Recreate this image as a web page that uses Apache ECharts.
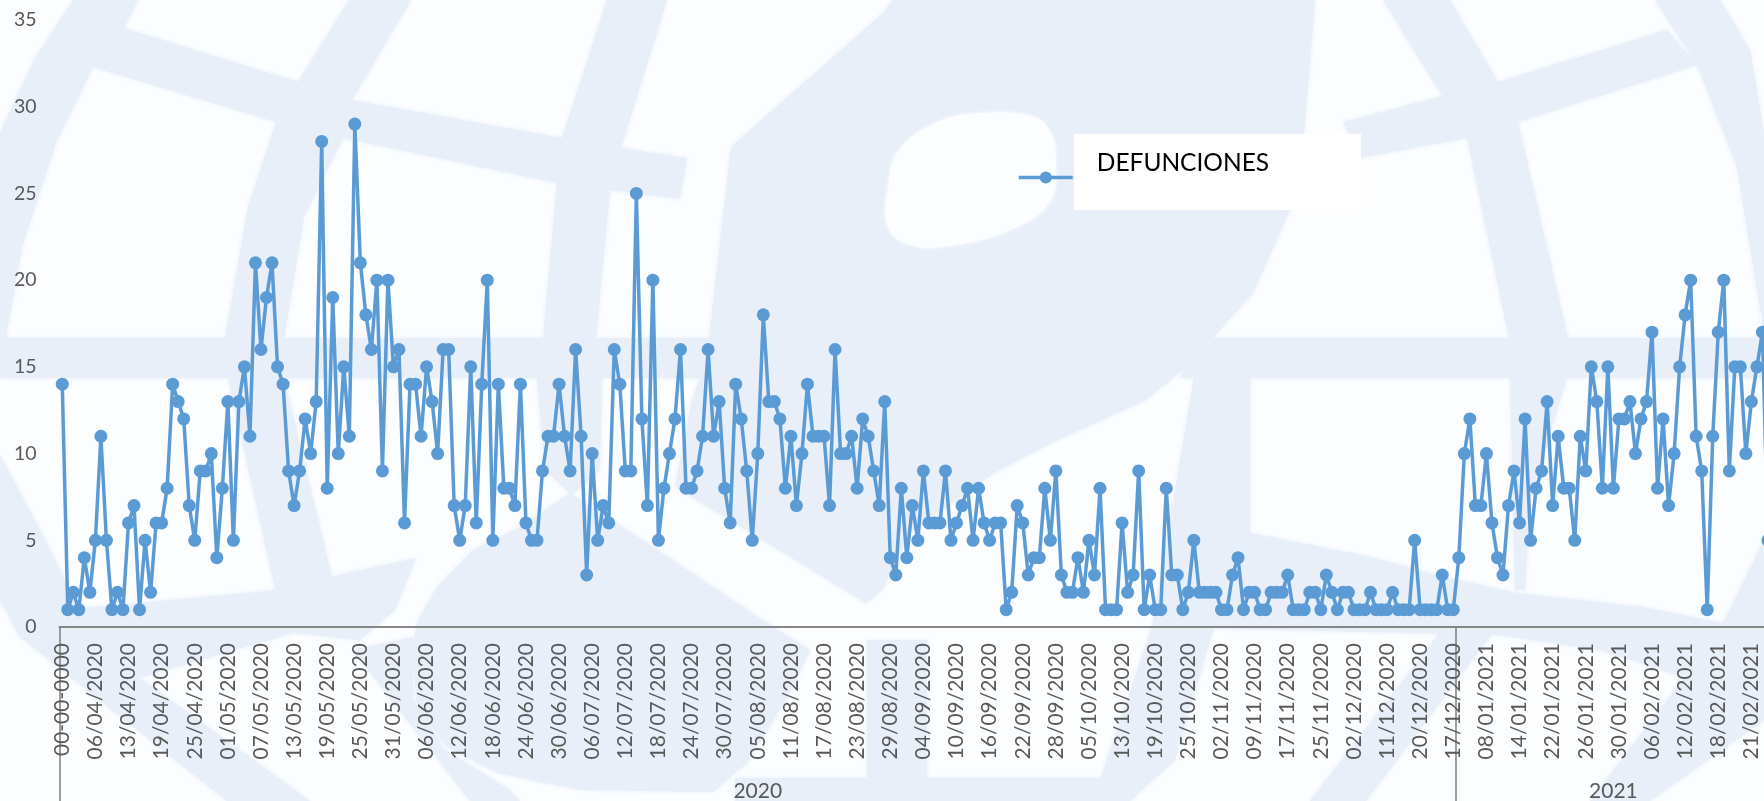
<!DOCTYPE html>
<html>
<head>
<meta charset="utf-8">
<style>html,body{margin:0;padding:0;background:#FBFDFF}#c{width:1764px;height:801px}</style>
<script src="https://cdn.jsdelivr.net/npm/echarts@6/dist/echarts.min.js"></script>
</head>
<body>
<div id="c"></div>
<script>
const seriesName = 'DEFUNCIONES';
const deaths = [
14,1,2,1,4,2,5,11,5,1,
2,1,6,7,1,5,2,6,6,8,
14,13,12,7,5,9,9,10,4,8,
13,5,13,15,11,21,16,19,21,15,
14,9,7,9,12,10,13,28,8,19,
10,15,11,29,21,18,16,20,9,20,
15,16,6,14,14,11,15,13,10,16,
16,7,5,7,15,6,14,20,5,14,
8,8,7,14,6,5,5,9,11,11,
14,11,9,16,11,3,10,5,7,6,
16,14,9,9,25,12,7,20,5,8,
10,12,16,8,8,9,11,16,11,13,
8,6,14,12,9,5,10,18,13,13,
12,8,11,7,10,14,11,11,11,7,
16,10,10,11,8,12,11,9,7,13,
4,3,8,4,7,5,9,6,6,6,
9,5,6,7,8,5,8,6,5,6,
6,1,2,7,6,3,4,4,8,5,
9,3,2,2,4,2,5,3,8,1,
1,1,6,2,3,9,1,3,1,1,
8,3,3,1,2,5,2,2,2,2,
1,1,3,4,1,2,2,1,1,2,
2,2,3,1,1,1,2,2,1,3,
2,1,2,2,1,1,1,2,1,1,
1,2,1,1,1,5,1,1,1,1,
3,1,1,4,10,12,7,7,10,6,
4,3,7,9,6,12,5,8,9,13,
7,11,8,8,5,11,9,15,13,8,
15,8,12,12,13,10,12,13,17,8,
12,7,10,15,18,20,11,9,1,11,
17,20,9,15,15,10,13,15,17,5];
const tickLabels = ['00-00-0000','06/04/2020','13/04/2020','19/04/2020','25/04/2020','01/05/2020','07/05/2020','13/05/2020','19/05/2020','25/05/2020','31/05/2020','06/06/2020','12/06/2020','18/06/2020','24/06/2020','30/06/2020','06/07/2020','12/07/2020','18/07/2020','24/07/2020','30/07/2020','05/08/2020','11/08/2020','17/08/2020','23/08/2020','29/08/2020','04/09/2020','10/09/2020','16/09/2020','22/09/2020','28/09/2020','05/10/2020','13/10/2020','19/10/2020','25/10/2020','02/11/2020','09/11/2020','17/11/2020','25/11/2020','02/12/2020','11/12/2020','20/12/2020','17/12/2020','08/01/2021','14/01/2021','22/01/2021','26/01/2021','30/01/2021','06/02/2021','12/02/2021','18/02/2021','21/02/2021'];
const tickEvery = 6;
const years = ['2020','2021'];
const yearCounts = [253,57];
const yTicks = {min:0,max:35,interval:5};

const categories = deaths.map((_,i)=> i%tickEvery===0 ? (tickLabels[i/tickEvery]||'') : '');
const yearCats = deaths.map(()=> '');
const yearEdges = [];
let pos = 0;
years.forEach((y,k)=>{ yearEdges.push(pos); yearCats[pos+Math.floor(yearCounts[k]/2)] = y; pos += yearCounts[k]; });

const FONT = 'Lato';
const BLUE = '#E8EFF8';
const poly = pts => ({type:'polygon',z:-10,silent:true,shape:{points:pts},style:{fill:BLUE,shadowBlur:4,shadowColor:BLUE}});
// Pale background emblem (decoration only)
const emblem = [
 [[73,0],[138,0],[124,28],[93,67],[56,143],[22,247],[6,338],[0,338],[0,133],[34,60]],
 [[124,28],[298,82],[352,100],[562,138],[621,148],[687,158],[680,199],[610,190],[557,183],[343,138],[276,122],[93,67]],
 [[349,0],[411,0],[352,100],[343,138],[304,217],[284,338],[225,338],[248,207],[276,122],[298,82]],
 [[607,0],[667,0],[621,148],[610,190],[596,338],[543,338],[557,183],[562,138]],
 [[0,338],[710,338],[710,378],[0,378]],
 [[1200,338],[1764,338],[1764,378],[1180,378]],
 [[893,0],[1315,0],[1304,133],[1290,210],[1253,293],[1186,367],[1146,400],[1051,443],[994,473],[910,533],[882,590],[866,603],[675,487],[692,400],[700,378],[709,338],[731,147],[882,14]],
 [[537,378],[602,378],[600,470],[572,495],[545,470]],
 [[228,378],[284,378],[332,577],[276,593]],
 [[60,610],[280,590],[330,577],[416,558],[395,610],[360,640],[293,633],[143,677],[120,665]],
 [[0,455],[40,530],[85,620],[143,680],[310,801],[227,801],[20,637],[0,600]],
 [[353,650],[413,637],[413,700],[445,750],[510,790],[520,801],[470,801]],
 [[570,493],[520,527],[473,550],[437,587],[418,620],[412,647],[417,707],[447,747],[497,773],[580,790],[713,792],[747,763],[790,693],[810,650],[773,627],[713,587],[647,543]],
 [[735,778],[1107,778],[1107,801],[735,801]],
 [[867,640],[927,640],[927,778],[867,778]],
 [[1152,627],[1214,627],[1175,760],[1130,801],[1085,801],[1100,780]],
 [[1383,0],[1450,0],[1498,82],[1443,97]],
 [[1467,138],[1518,122],[1568,338],[1509,338]],
 [[1510,378],[1567,378],[1530,500],[1525,590],[1515,590]],
 [[1343,122],[1498,82],[1667,30],[1697,65],[1518,122],[1467,138],[1360,158]],
 [[1655,0],[1720,0],[1750,50],[1764,133],[1764,333],[1737,167],[1697,65]],
 [[1194,378],[1250,378],[1250,533],[1371,557],[1444,577],[1517,593],[1643,607],[1723,623],[1764,540],[1764,700],[1713,640],[1683,677],[1600,650],[1497,635],[1152,627]],
 [[1444,627],[1497,627],[1366,801],[1310,801]],
 [[1713,640],[1764,680],[1764,720],[1650,801],[1590,801]]
];
const graphics = emblem.map(poly);
graphics.push({type:'polygon',z:-9,silent:true,shape:{smooth:0.4,points:[[888,187],[899,150],[938,122],[983,113],[1034,117],[1051,133],[1056,160],[1051,200],[1017,227],[955,245],[910,245],[888,227]]},style:{fill:'#FBFDFF',shadowBlur:4,shadowColor:'#FBFDFF'}});
graphics.push({type:'rect',z:-8,silent:true,shape:{x:1074,y:134,width:287,height:76},style:{fill:'#FFFFFF'}});

const band = 5.52;
const chart = echarts.init(document.getElementById('c'),null,{renderer:'canvas'});
chart.setOption({
  animation:false,
  backgroundColor:'#FBFDFF',
  textStyle:{fontFamily:FONT},
  graphic:graphics,
  grid:{left:59.5,top:20,height:607,width:band*deaths.length,containLabel:false,outerBoundsMode:'none'},
  legend:{
    show:true,data:[seriesName],left:1017,top:151,orient:'horizontal',padding:0,
    itemWidth:54,itemHeight:15,
    lineStyle:{width:3.5,color:'#5B9BD5'},
    formatter:n=>'{a|'+n+'}',
    textStyle:{rich:{a:{fontFamily:FONT,fontSize:24.5,color:'#000',padding:[0,0,28,19]}}}
  },
  xAxis:[{
    type:'category',data:categories,position:'bottom',boundaryGap:true,
    axisLine:{show:true,lineStyle:{color:'#868686',width:2}},
    axisTick:{show:false},
    axisLabel:{interval:tickEvery-1,rotate:90,margin:16,fontFamily:FONT,fontSize:21,color:'#595959'}
  },{
    type:'category',data:yearCats,position:'bottom',boundaryGap:true,
    axisLine:{show:false},
    axisTick:{show:true,length:174,interval:(i)=>yearEdges.includes(i),lineStyle:{color:'#7f7f7f',width:1.5}},
    axisLabel:{interval:(i,v)=>v!=='',margin:154,fontFamily:FONT,fontSize:21,color:'#595959'}
  }],
  yAxis:{
    type:'value',min:yTicks.min,max:yTicks.max,interval:yTicks.interval,
    axisLine:{show:false},axisTick:{show:false},splitLine:{show:false},
    axisLabel:{margin:23,fontFamily:FONT,fontSize:19.5,color:'#595959'}
  },
  series:[{
    name:seriesName,type:'line',data:deaths,xAxisIndex:0,
    symbol:'circle',symbolSize:13,showSymbol:true,showAllSymbol:true,clip:false,
    lineStyle:{color:'#5B9BD5',width:3.5},
    itemStyle:{color:'#5B9BD5'},
    emphasis:{disabled:true}
  }]
});
</script>
</body>
</html>
